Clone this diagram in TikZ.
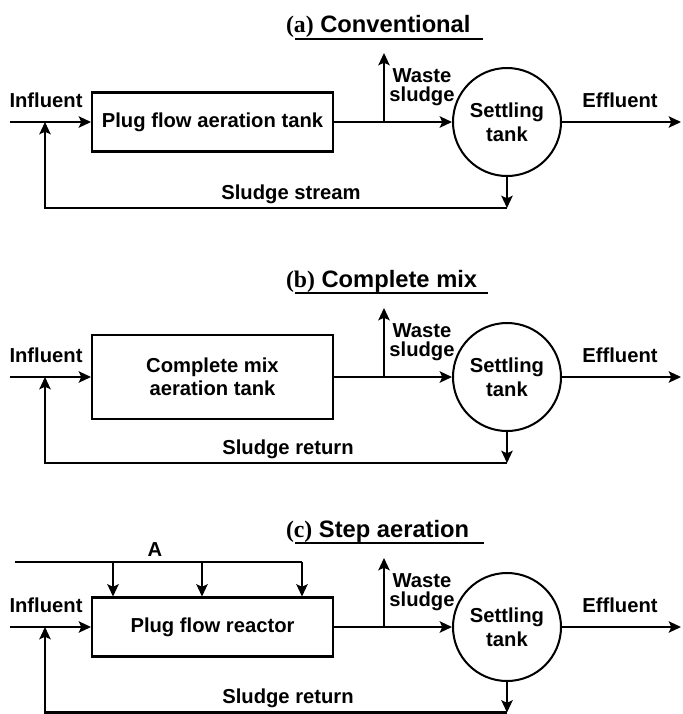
\documentclass[tikz,border=0pt]{standalone}
\usepackage{fontspec}
\setmainfont{Liberation Sans}
\newfontfamily\titleserif{Liberation Serif}
\usetikzlibrary{arrows.meta}

\begin{document}
\begin{tikzpicture}[
    line width=1.15pt,
    flow/.style={-{Stealth[length=7pt,width=6.5pt,inset=1.5pt]}},
    tankbox/.style={
        rectangle,
        draw,
        minimum width=4.82cm,
        minimum height=1.18cm,
        font=\fontsize{11.5}{13}\selectfont\bfseries,
        align=center
    },
    settler/.style={
        circle,
        draw,
        minimum size=2.16cm,
        inner sep=0pt,
        font=\fontsize{11.5}{13.5}\selectfont\bfseries,
        align=center
    },
    lbl/.style={
        inner sep=0pt,
        font=\fontsize{11.5}{11}\selectfont\bfseries,
        align=center
    },
    paneltitle/.style={
        inner sep=0pt,
        anchor=base west,
        font=\fontsize{13.5}{14}\selectfont\bfseries
    }
]
\useasboundingbox (0,0) rectangle (13.64,-14.28);

% (a) Conventional
\node[paneltitle] (a-title) at (5.7,-0.64) {{\titleserif (a)} Conventional};
\draw (5.9,-0.78) -- (9.66,-0.78);
\node[tankbox] (a-box) at (4.25,-2.44) {Plug flow aeration tank};
\node[settler] (a-tank) at (10.14,-2.44) {Settling\\tank};
\coordinate (a-in) at (0.2,-2.44);
\coordinate (a-join) at (0.9,-2.44);
\coordinate (a-waste) at (7.68,-2.44);
\coordinate (a-wtip) at (7.68,-1.06);
\coordinate (a-out) at (13.62,-2.44);
\coordinate (a-ret) at (10.14,-4.16);
\draw[flow] (a-in) -- (a-box.west);
\draw[flow] (a-box.east) -- (a-tank.west);
\draw[flow] (a-waste) -- (a-wtip);
\draw[flow] (a-tank.east) -- (a-out);
\draw[flow] (a-tank.south) -- (a-ret);
\draw[flow] (a-ret) -- (a-join |- a-ret) -- (a-join);
\node[lbl, anchor=base] (a-inf) at (0.92,-2.14) {Influent};
\node[lbl, anchor=base] (a-eff) at (12.4,-2.14) {Effluent};
\node[lbl, anchor=south] (a-wl) at (8.44,-2.14) {Waste\\sludge};
\node[lbl, anchor=south] (a-sl) at (5.82,-4.10) {Sludge stream};

% (b) Complete mix
\node[paneltitle] (b-title) at (5.7,-5.74) {{\titleserif (b)} Complete mix};
\draw (5.9,-5.86) -- (9.76,-5.86);
\node[tankbox, minimum height=1.68cm] (b-box) at (4.25,-7.54) {Complete mix\\aeration tank};
\node[settler] (b-tank) at (10.14,-7.54) {Settling\\tank};
\coordinate (b-in) at (0.2,-7.54);
\coordinate (b-join) at (0.9,-7.54);
\coordinate (b-waste) at (7.68,-7.54);
\coordinate (b-wtip) at (7.68,-6.16);
\coordinate (b-out) at (13.62,-7.54);
\coordinate (b-ret) at (10.14,-9.26);
\draw[flow] (b-in) -- (b-box.west);
\draw[flow] (b-box.east) -- (b-tank.west);
\draw[flow] (b-waste) -- (b-wtip);
\draw[flow] (b-tank.east) -- (b-out);
\draw[flow] (b-tank.south) -- (b-ret);
\draw[flow] (b-ret) -- (b-join |- b-ret) -- (b-join);
\node[lbl, anchor=base] (b-inf) at (0.92,-7.24) {Influent};
\node[lbl, anchor=base] (b-eff) at (12.4,-7.24) {Effluent};
\node[lbl, anchor=south] (b-wl) at (8.44,-7.24) {Waste\\sludge};
\node[lbl, anchor=south] (b-sl) at (5.76,-9.20) {Sludge return};

% (c) Step aeration
\node[paneltitle] (c-title) at (5.7,-10.74) {{\titleserif (c)} Step aeration};
\draw (5.9,-10.86) -- (9.68,-10.86);
\node[tankbox] (c-box) at (4.25,-12.54) {Plug flow reactor};
\node[settler] (c-tank) at (10.14,-12.54) {Settling\\tank};
\coordinate (c-in) at (0.2,-12.54);
\coordinate (c-join) at (0.9,-12.54);
\coordinate (c-waste) at (7.68,-12.54);
\coordinate (c-wtip) at (7.68,-11.16);
\coordinate (c-out) at (13.62,-12.54);
\coordinate (c-ret) at (10.14,-14.25);
\coordinate (c-feed) at (0.3,-11.24);
\coordinate (c-f1) at (2.26,-11.24);
\coordinate (c-f2) at (4.04,-11.24);
\coordinate (c-f3) at (6.04,-11.24);
\draw (c-feed) -- (c-f3);
\draw[flow] (c-f1) -- (c-f1 |- c-box.north);
\draw[flow] (c-f2) -- (c-f2 |- c-box.north);
\draw[flow] (c-f3) -- (c-f3 |- c-box.north);
\draw[flow] (c-in) -- (c-box.west);
\draw[flow] (c-box.east) -- (c-tank.west);
\draw[flow] (c-waste) -- (c-wtip);
\draw[flow] (c-tank.east) -- (c-out);
\draw[flow] (c-tank.south) -- (c-ret);
\draw[flow] (c-ret) -- (c-join |- c-ret) -- (c-join);
\node[lbl, anchor=south] (c-a) at (3.1,-11.16) {A};
\node[lbl, anchor=base] (c-inf) at (0.92,-12.24) {Influent};
\node[lbl, anchor=base] (c-eff) at (12.4,-12.24) {Effluent};
\node[lbl, anchor=south] (c-wl) at (8.44,-12.24) {Waste\\sludge};
\node[lbl, anchor=south] (c-sl) at (5.76,-14.18) {Sludge return};

\end{tikzpicture}
\end{document}
